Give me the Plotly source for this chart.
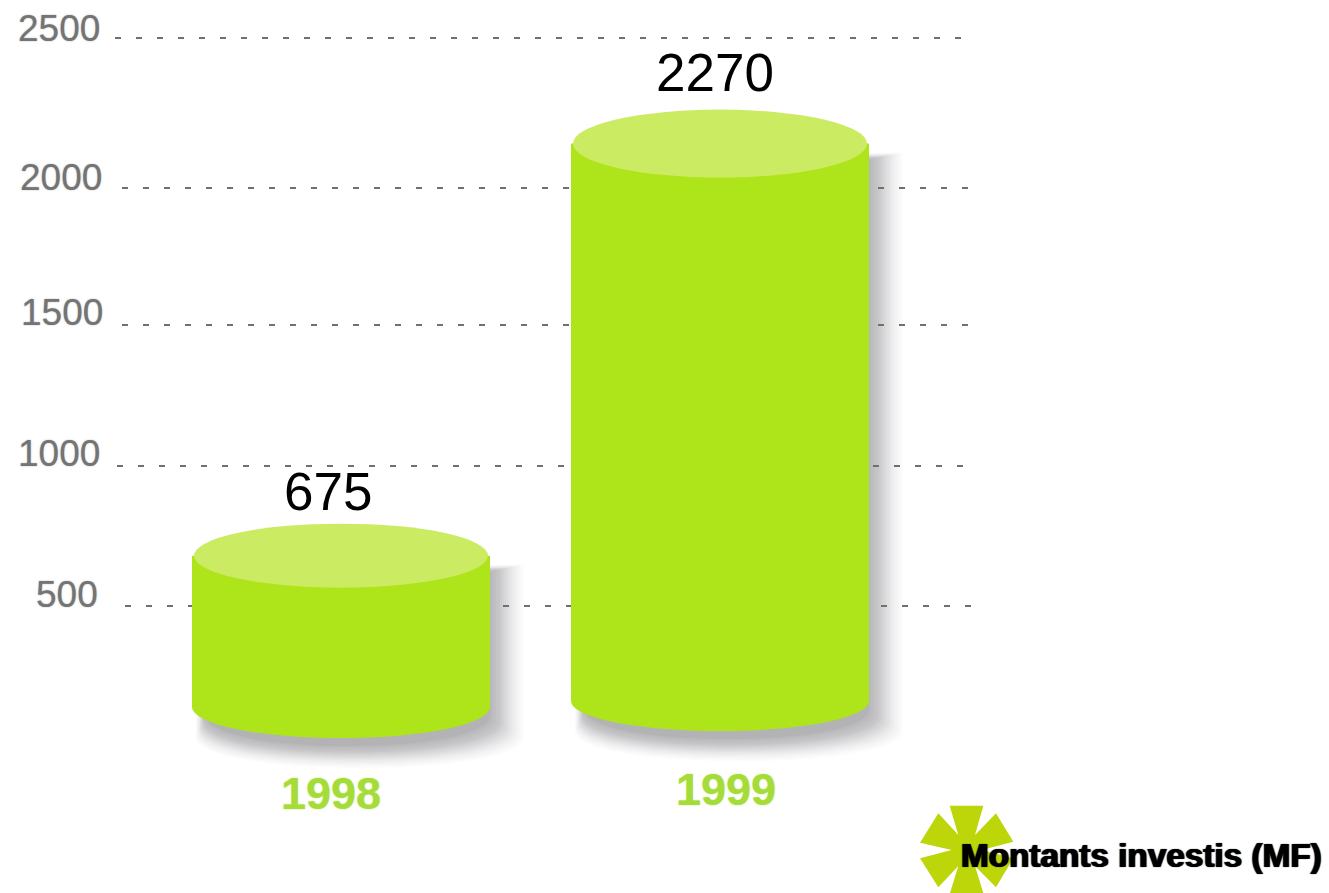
import plotly.graph_objects as go

# ---------- data ----------
years = ["1998", "1999"]
amounts = [675, 2270]
bar_bases = [89, 112]          # foot of each cylinder
tick_values = [500, 1000, 1500, 2000, 2500]
tick_labels = ["500", "1000", "1500", "2000", "2500"]
legend_text = "Montants investis (MF)"

# ---------- layout constants ----------
W, H = 1329, 893
AXIS_RANGE = [-510, 2648]      # gridline axis
BAR_RANGE = [-631, 2826]       # hidden pictorial axis for cylinders
BAR_X = [341, 720]
BAR_W = 298
TOP_RY = [32, 34]
FOOT_RY = [31, 30]
GRID_NUDGE = [-1.4, 0, 0.4, 4.8, -3.8]
GRID_X = [(125, 975), (117, 968), (122, 970), (122, 975), (115, 965)]
TICK_RIGHT = [100, 102, 105, 104, 102]
TICK_Y = [594, 453, 313, 178, 28]
VALUE_POS = [(328, 491), (715, 73)]
YEAR_POS = [(331, 793), (726, 789)]
BODY = "#aee41a"
TOP = "#cbeb62"

ax_per_px = (AXIS_RANGE[1] - AXIS_RANGE[0]) / H
bar_per_px = (BAR_RANGE[1] - BAR_RANGE[0]) / H

fig = go.Figure()

# dashed gridlines
for v, nudge, (x0, x1) in zip(tick_values, GRID_NUDGE, GRID_X):
    yv = v - nudge * ax_per_px
    fig.add_trace(go.Scatter(
        x=[x0, x1], y=[yv, yv], mode="lines", yaxis="y", xaxis="x",
        line=dict(color="#707070", width=2, dash="6px,15px"),
        hoverinfo="skip", showlegend=False))

# cylinder bodies
fig.add_trace(go.Bar(
    x=BAR_X, y=[a - b for a, b in zip(amounts, bar_bases)], base=bar_bases,
    width=BAR_W, yaxis="y2", xaxis="x",
    marker=dict(color=BODY, line=dict(width=0)),
    hoverinfo="skip", showlegend=False))

shapes = []

# soft drop shadows (stacked translucent outlines)
LAYERS = 18
for cx, val, base, fry in zip(BAR_X, amounts, bar_bases, FOOT_RY):
    for i in range(LAYERS):
        grow = 2.0 * i
        alpha = 0.014 + 0.03 * (LAYERS - i) / LAYERS
        x0 = cx - BAR_W / 2 + 14 - grow * 0.3
        x1 = cx + BAR_W / 2 + grow
        ytop = val - (16 - grow * 0.2) * bar_per_px
        yfoot = base - (8 + grow * 0.65) * bar_per_px
        ctrl = yfoot - fry * 4 / 3 * bar_per_px
        path = (f"M {x0},{ytop} L {x1},{ytop} L {x1},{yfoot} "
                f"C {x1},{ctrl} {x0},{ctrl} {x0},{yfoot} Z")
        shapes.append(dict(type="path", path=path, xref="x", yref="y2", layer="below",
                           fillcolor=f"rgba(90,90,95,{alpha:.3f})", line=dict(width=0)))

# foot and top ellipses of each cylinder
for cx, val, base, try_, fry in zip(BAR_X, amounts, bar_bases, TOP_RY, FOOT_RY):
    shapes.append(dict(type="circle", xref="x", yref="y2", layer="above",
                       x0=cx - BAR_W / 2, x1=cx + BAR_W / 2,
                       y0=base - fry * bar_per_px, y1=base + fry * bar_per_px,
                       fillcolor=BODY, line=dict(width=0)))
    shapes.append(dict(type="circle", xref="x", yref="y2", layer="above",
                       x0=cx - BAR_W / 2 + 2, x1=cx + BAR_W / 2 - 2,
                       y0=val - try_ * bar_per_px, y1=val + try_ * bar_per_px,
                       fillcolor=TOP, line=dict(width=0)))

# star emblem, in logo-crop coordinates
STAR = [(209, 47), (310, 47), (285, 135), (348, 70), (400, 155), (305, 180), (400, 205),
        (348, 292), (285, 228), (310, 309), (210, 309), (235, 228), (175, 292), (120, 205),
        (215, 180), (120, 158), (175, 70), (235, 135)]
star_pts = [(880 + x / 3) / W for x, _ in STAR], [1 - (790 + y / 3) / H for _, y in STAR]
star_path = "M " + " L ".join(f"{a:.5f},{b:.5f}" for a, b in zip(*star_pts)) + " Z"
shapes.append(dict(type="path", path=star_path, xref="paper", yref="paper", layer="below",
                   fillcolor="#bdd60a", line=dict(width=0)))

FONT = "Liberation Sans, Arial, sans-serif"
ann = []
SOFT = "0 0 1.5px rgba(120,120,120,0.7)"
for lab, xr, yp in zip(tick_labels, TICK_RIGHT, TICK_Y):
    ann.append(dict(text=lab, x=xr / W, y=1 - yp / H, xref="paper", yref="paper",
                    xanchor="right", yanchor="middle", showarrow=False,
                    font=dict(family=FONT, size=37, color="#747474", shadow=SOFT)))
for val, (xp, yp) in zip(amounts, VALUE_POS):
    ann.append(dict(text=str(val), x=xp / W, y=1 - yp / H, xref="paper", yref="paper",
                    xanchor="center", yanchor="middle", showarrow=False,
                    font=dict(family=FONT, size=53, color="#000000")))
for yr, (xp, yp) in zip(years, YEAR_POS):
    ann.append(dict(text=yr, x=xp / W, y=1 - yp / H, xref="paper", yref="paper",
                    xanchor="center", yanchor="middle", showarrow=False,
                    font=dict(family=FONT, size=45, color="#a6dc3a", weight="bold",
                              shadow="0 0 1.5px rgba(166,220,58,0.8)")))
ann.append(dict(text=legend_text, x=1324 / W, y=1 - 855 / H, xref="paper", yref="paper",
                xanchor="right", yanchor="middle", showarrow=False,
                font=dict(family=FONT, size=33.3, color="#000000", weight="bold",
                          shadow="0.9px 0 0.7px #000, -0.9px 0 0.7px #000")))

fig.update_layout(
    width=W, height=H, margin=dict(l=0, r=0, t=0, b=0),
    paper_bgcolor="white", plot_bgcolor="white", showlegend=False,
    hovermode=False, barmode="overlay",
    xaxis=dict(range=[0, W], visible=False, fixedrange=True, domain=[0, 1]),
    yaxis=dict(range=AXIS_RANGE, visible=False, fixedrange=True, domain=[0, 1]),
    yaxis2=dict(range=BAR_RANGE, visible=False, fixedrange=True, overlaying="y"),
    shapes=shapes, annotations=ann,
)
fig.write_html("out.html", config=dict(displayModeBar=False),
               post_script="document.body.style.margin='0';document.body.style.overflow='hidden';")
